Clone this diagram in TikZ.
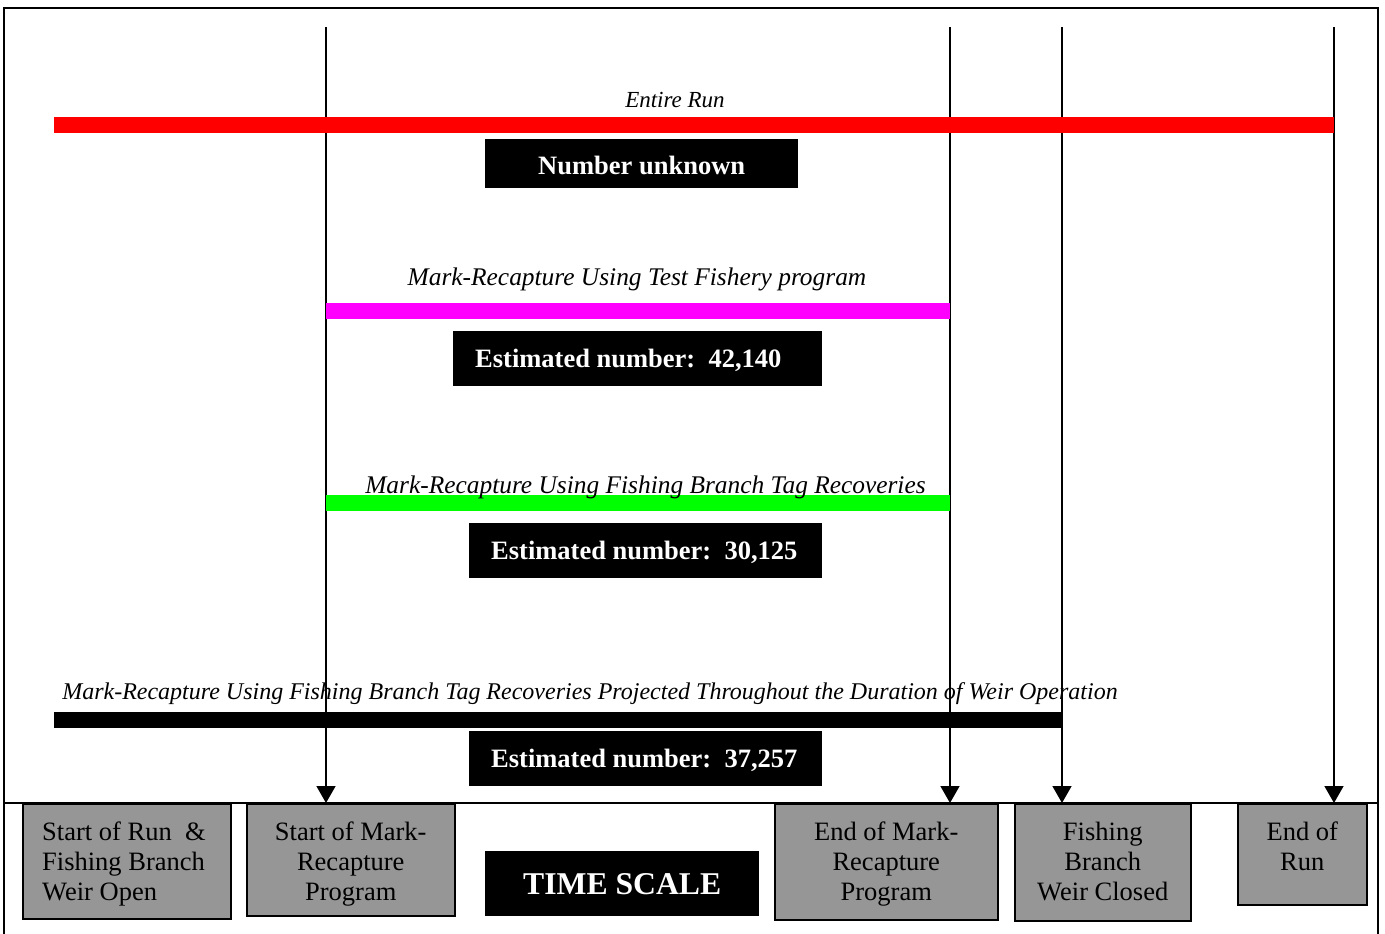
\documentclass[tikz,border=0pt]{standalone}
\usepackage{fontspec}
\setmainfont{Liberation Serif}
\usetikzlibrary{arrows.meta}
\definecolor{boxgray}{RGB}{150,150,150}
\definecolor{barred}{RGB}{255,0,0}
\definecolor{barmag}{RGB}{255,0,255}
\definecolor{bargreen}{RGB}{0,255,0}
\begin{document}
\begin{tikzpicture}[x=1pt,y=-1pt,
  gbox/.style={draw=black, line width=1.5pt, fill=boxgray, inner sep=0pt, anchor=north west},
  btext/.style={font=\fontsize{26.5}{30}\selectfont, inner sep=0pt, align=center, anchor=north},
  blackbox/.style={fill=black, inner sep=0pt, anchor=north west},
  whitetext/.style={text=white, font=\bfseries\fontsize{26.5}{30}\selectfont, inner sep=0pt},
  lbl/.style={font=\itshape\fontsize{25.4}{30}\selectfont, inner sep=0pt, anchor=base},
  bar/.style={line width=16pt},
  timeline/.style={line width=1.5pt, -{Triangle[width=19pt,length=17pt]}},
  frameline/.style={line width=1.5pt}]
\useasboundingbox (0,0) rectangle (1385,934);

% frame
\draw[frameline] (4,945) -- (4,8) -- (1378,8) -- (1378,945);
\draw[line width=1.2pt] (4,803) -- (1378,803);

% bottom boxes
\node[gbox, minimum width=208pt, minimum height=115pt] (b1) at (22,803) {};
\node[gbox, minimum width=208pt, minimum height=112pt] (b2) at (246,803) {};
\node[gbox, minimum width=223pt, minimum height=116pt] (b3) at (774,803) {};
\node[gbox, minimum width=176pt, minimum height=117pt] (b4) at (1014,803) {};
\node[gbox, minimum width=129pt, minimum height=101pt] (b5) at (1237,803) {};

\node[btext, anchor=north west, align=left] (b1t) at ([xshift=20pt,yshift=-19pt]b1.north west) {Start of Run\ \ \&\\Fishing Branch\\Weir Open};
\node[btext] (b2t) at ([yshift=-19pt]b2.north) {Start of Mark-\\Recapture\\Program};
\node[btext] (b3t) at ([yshift=-19pt]b3.north) {End of Mark-\\Recapture\\Program};
\node[btext] (b4t) at ([yshift=-19pt]b4.north) {Fishing\\Branch\\Weir Closed};
\node[btext] (b5t) at ([yshift=-19pt]b5.north) {End of\\Run};

\node[blackbox, minimum width=274pt, minimum height=65pt] (ts) at (485,851) {};
\node[whitetext, font=\bfseries\fontsize{31.7}{36}\selectfont] (tst) at ([yshift=0pt]ts.center) {TIME SCALE};

% timelines
\coordinate (t1) at (326,27);
\coordinate (t2) at (950,27);
\coordinate (t3) at (1062,27);
\coordinate (t4) at (1334,27);
\draw[timeline] (t1) -- (t1 |- b2.north);
\draw[timeline] (t2) -- (t2 |- b3.north);
\draw[timeline] (t3) -- (t3 |- b4.north);
\draw[timeline] (t4) -- (t4 |- b5.north);

% bars
\draw[bar, barred] (54,125) -- (t4 |- 0,125);
\draw[bar, barmag] (t1 |- 0,311) -- (t2 |- 0,311);
\draw[bar, bargreen] (t1 |- 0,503) -- (t2 |- 0,503);
\draw[bar, black] (54,719.5) -- (t3 |- 0,719.5);

% labels
\node[lbl, font=\itshape\fontsize{23}{28}\selectfont] (l0) at (675,107) {Entire Run};
\node[lbl] (l1) at (637,285) {Mark-Recapture Using Test Fishery program};
\node[lbl] (l2) at (645.5,493) {Mark-Recapture Using Fishing Branch Tag Recoveries};
\node[lbl, font=\itshape\fontsize{24}{28}\selectfont] (l3) at (590,699) {Mark-Recapture Using Fishing Branch Tag Recoveries Projected Throughout the Duration of Weir Operation};

% result boxes
\node[blackbox, minimum width=313pt, minimum height=49pt] (nu) at (485,139) {};
\node[whitetext] (nut) at ([yshift=-2pt]nu.center) {Number unknown};
\node[blackbox, minimum width=369pt, minimum height=55pt] (e1) at (453,331) {};
\node[whitetext, anchor=west] (e1t) at ([xshift=22pt,yshift=-2pt]e1.west) {Estimated number:\ \ 42,140};
\node[blackbox, minimum width=353pt, minimum height=55pt] (e2) at (469,523) {};
\node[whitetext, anchor=west] (e2t) at ([xshift=22pt,yshift=-2pt]e2.west) {Estimated number:\ \ 30,125};
\node[blackbox, minimum width=353pt, minimum height=55pt] (e3) at (469,731) {};
\node[whitetext, anchor=west] (e3t) at ([xshift=22pt,yshift=-2pt]e3.west) {Estimated number:\ \ 37,257};
\end{tikzpicture}
\end{document}
